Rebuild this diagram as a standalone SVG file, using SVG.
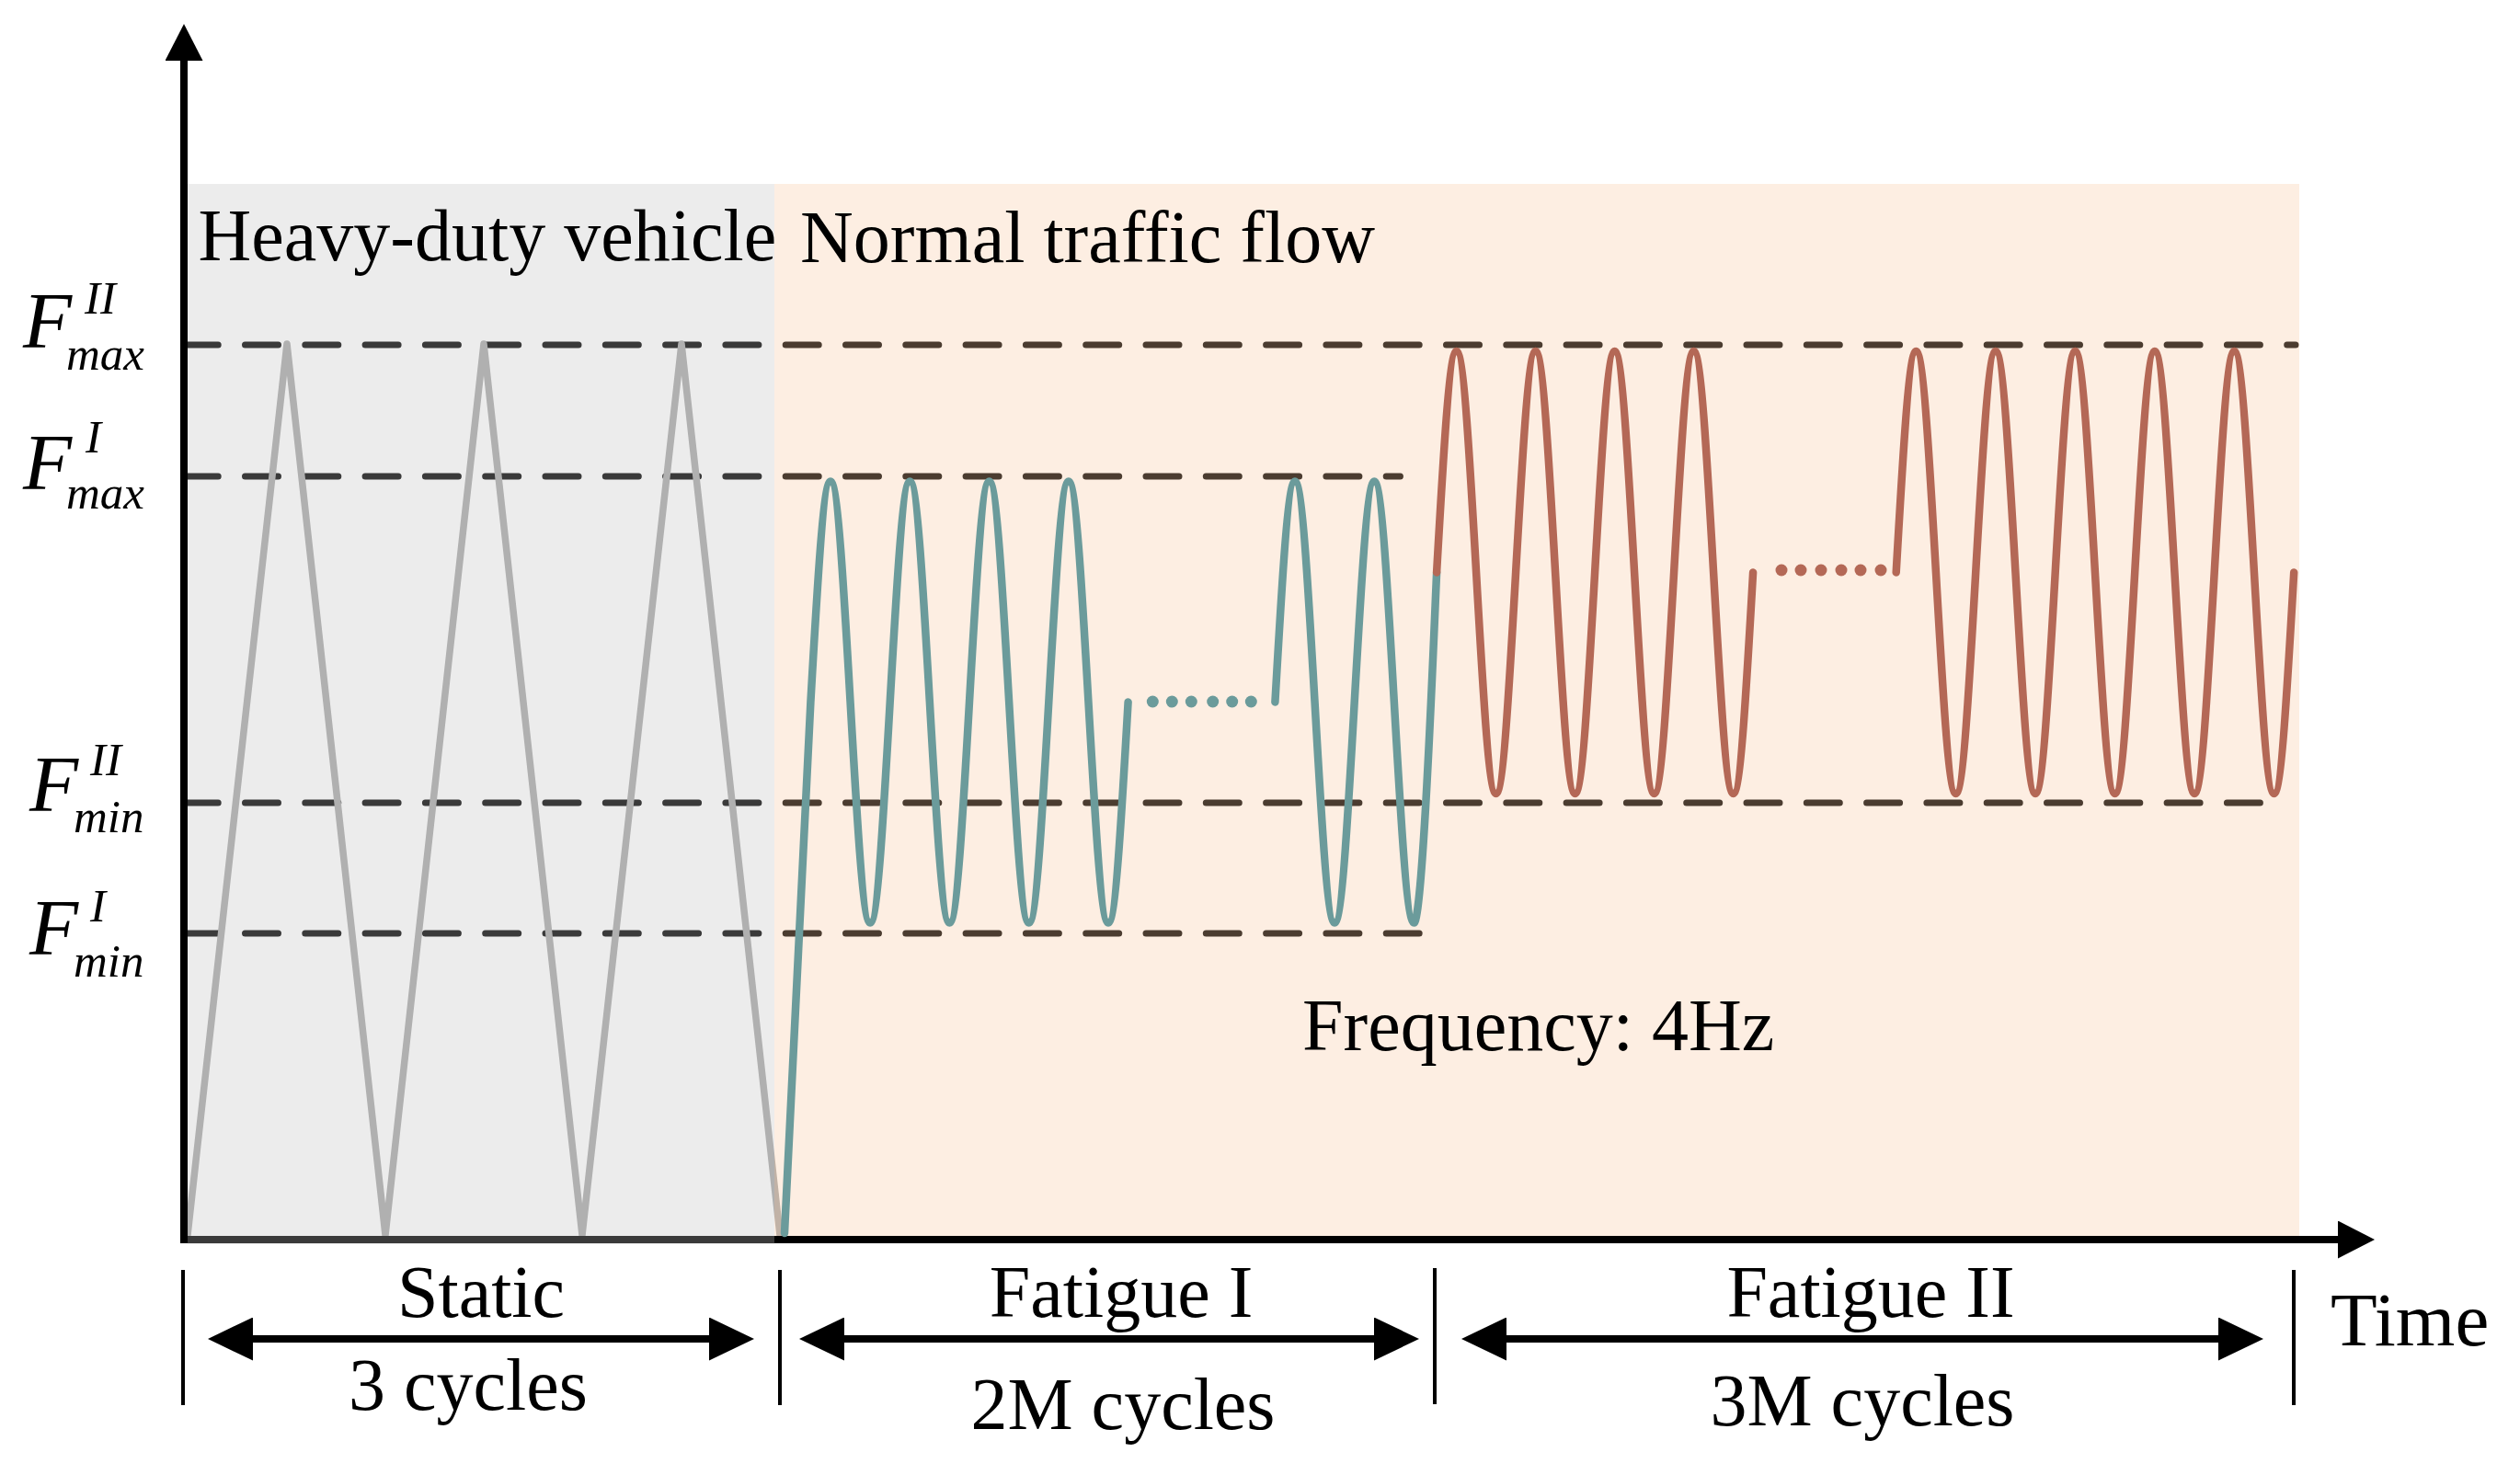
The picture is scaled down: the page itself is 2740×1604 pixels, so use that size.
<svg xmlns="http://www.w3.org/2000/svg" width="2740" height="1604" viewBox="0 0 2740 1604">
<style>
.dash{stroke:#000;stroke-width:7;stroke-dasharray:36 29.3;stroke-linecap:round;fill:none}
.tri{stroke:#A9A9A9;stroke-width:7.5;fill:none;stroke-linejoin:round;stroke-linecap:round}
.teal{stroke:#6B9B9B;stroke-width:8.5;fill:none;stroke-linecap:round;stroke-linejoin:round}
.red{stroke:#B46856;stroke-width:8.5;fill:none;stroke-linecap:round;stroke-linejoin:round}
.tdot{fill:#6B9B9B}
.rdot{fill:#B46856}
.t{font-family:"Liberation Serif","Times New Roman",serif;font-size:80px;fill:#000}
.Fi{font-family:"Liberation Serif","Times New Roman",serif;font-style:italic;font-size:87px;fill:#000}
.si{font-family:"Liberation Serif","Times New Roman",serif;font-style:italic;font-size:51px;fill:#000}
.tick{stroke:#000;stroke-width:4}
.dim{stroke:#000;stroke-width:8;fill:none}
</style>
<defs>
<marker id="axh" markerUnits="userSpaceOnUse" markerWidth="41" markerHeight="41" refX="30" refY="20.5" orient="auto-start-reverse"><path d="M0,0 L40,20.5 L0,41 z" fill="#000"/></marker>
<marker id="dh" markerUnits="userSpaceOnUse" markerWidth="50" markerHeight="47" refX="39" refY="23.5" orient="auto-start-reverse"><path d="M0,0 L49,23.5 L0,47 z" fill="#000"/></marker>
</defs>
<rect x="0" y="0" width="2740" height="1604" fill="#fff"/>

<g id="levels">
<line class="dash" x1="201.2" y1="375" x2="2496" y2="375"/>
<line class="dash" x1="201.2" y1="518" x2="1522.5" y2="518"/>
<line class="dash" x1="201.2" y1="873" x2="2470" y2="873"/>
<line class="dash" x1="201.2" y1="1015" x2="1543.2" y2="1015"/>
</g>

<g id="static-load">
<polyline class="tri" points="204,1343 312,374 419,1343 526,374 633,1343 741,374 848,1343"/>
</g>

<g id="axes">
<path d="M200,36 V1348 H2572" stroke="#000" stroke-width="8" fill="none" stroke-linejoin="miter" marker-start="url(#axh)" marker-end="url(#axh)"/>
</g>

<g id="regions">
<rect id="heavy-region" x="204" y="200" width="638" height="1153" fill="#C0C0C0" fill-opacity="0.3"/>
<rect id="normal-region" x="842" y="200" width="1658" height="1144" fill="#F8C69E" fill-opacity="0.3"/>
</g>

<g id="fatigue1">
<path class="teal" d="M853,1341 L881.4,763.5 c7.21,-126.02 13.81,-240 21.575,-240 c7.77,0 14.36,113.98 21.575,240 c7.21,126.02 13.81,240 21.575,240 c7.77,0 14.36,-113.98 21.575,-240 c7.21,-126.02 13.81,-240 21.575,-240 c7.77,0 14.36,113.98 21.575,240 c7.21,126.02 13.81,240 21.575,240 c7.77,0 14.36,-113.98 21.575,-240 c7.21,-126.02 13.81,-240 21.575,-240 c7.77,0 14.36,113.98 21.575,240 c7.21,126.02 13.81,240 21.575,240 c7.77,0 14.36,-113.98 21.575,-240 c7.21,-126.02 13.81,-240 21.575,-240 c7.77,0 14.36,113.98 21.575,240 c7.21,126.02 13.81,240 21.575,240 c7.77,0 14.36,-113.98 21.575,-240"/>
<circle class="tdot" cx="1253.3" cy="763" r="6.5"/>
<circle class="tdot" cx="1274.3" cy="763" r="6.5"/>
<circle class="tdot" cx="1295.3" cy="763" r="6.5"/>
<circle class="tdot" cx="1318.7" cy="763" r="6.5"/>
<circle class="tdot" cx="1339.7" cy="763" r="6.5"/>
<circle class="tdot" cx="1360.3" cy="763" r="6.5"/>
<path class="teal" d="M1386.4,763.5 c7.21,-126.02 13.81,-240 21.575,-240 c7.77,0 14.36,113.98 21.575,240 c7.21,126.02 13.81,240 21.575,240 c7.77,0 14.36,-113.98 21.575,-240 c7.21,-126.02 13.81,-240 21.575,-240 c7.77,0 14.36,113.98 21.575,240 c7.21,126.02 13.81,240 21.575,240 c10,0 22.7,-341 24.7,-381"/>
</g>

<g id="fatigue2">
<path class="red" d="M1562.1,622.5 c7.19,-126.29 13.76,-240.5 21.5,-240.5 c7.74,0 14.31,114.21 21.5,240.5 c7.19,126.29 13.76,240.5 21.5,240.5 c7.74,0 14.31,-114.21 21.5,-240.5 c7.19,-126.29 13.76,-240.5 21.5,-240.5 c7.74,0 14.31,114.21 21.5,240.5 c7.19,126.29 13.76,240.5 21.5,240.5 c7.74,0 14.31,-114.21 21.5,-240.5 c7.19,-126.29 13.76,-240.5 21.5,-240.5 c7.74,0 14.31,114.21 21.5,240.5 c7.19,126.29 13.76,240.5 21.5,240.5 c7.74,0 14.31,-114.21 21.5,-240.5 c7.19,-126.29 13.76,-240.5 21.5,-240.5 c7.74,0 14.31,114.21 21.5,240.5 c7.19,126.29 13.76,240.5 21.5,240.5 c7.74,0 14.31,-114.21 21.5,-240.5"/>
<circle class="rdot" cx="1937" cy="620" r="6.5"/>
<circle class="rdot" cx="1958" cy="620" r="6.5"/>
<circle class="rdot" cx="1980" cy="620" r="6.5"/>
<circle class="rdot" cx="2002" cy="620" r="6.5"/>
<circle class="rdot" cx="2023" cy="620" r="6.5"/>
<circle class="rdot" cx="2045" cy="620" r="6.5"/>
<path class="red" d="M2061.7,622.5 c7.23,-126.29 13.84,-240.5 21.625,-240.5 c7.78,0 14.4,114.21 21.625,240.5 c7.23,126.29 13.84,240.5 21.625,240.5 c7.78,0 14.4,-114.21 21.625,-240.5 c7.23,-126.29 13.84,-240.5 21.625,-240.5 c7.78,0 14.4,114.21 21.625,240.5 c7.23,126.29 13.84,240.5 21.625,240.5 c7.78,0 14.4,-114.21 21.625,-240.5 c7.23,-126.29 13.84,-240.5 21.625,-240.5 c7.78,0 14.4,114.21 21.625,240.5 c7.23,126.29 13.84,240.5 21.625,240.5 c7.78,0 14.4,-114.21 21.625,-240.5 c7.23,-126.29 13.84,-240.5 21.625,-240.5 c7.78,0 14.4,114.21 21.625,240.5 c7.23,126.29 13.84,240.5 21.625,240.5 c7.78,0 14.4,-114.21 21.625,-240.5 c7.23,-126.29 13.84,-240.5 21.625,-240.5 c7.78,0 14.4,114.21 21.625,240.5 c7.23,126.29 13.84,240.5 21.625,240.5 c7.78,0 14.4,-114.21 21.625,-240.5"/>
</g>

<g id="region-labels">
<text class="t" x="215.5" y="283">Heavy-duty vehicle</text>
<text class="t" x="870" y="285">Normal traffic flow</text>
<text class="t" x="1416" y="1142">Frequency: 4Hz</text>
</g>

<g id="label-fmax-II">
<text class="Fi" x="25" y="378">F</text>
<text class="si" x="92" y="341">II</text>
<text class="si" x="72" y="402">max</text>
</g>
<g id="label-fmax-I">
<text class="Fi" x="25" y="532">F</text>
<text class="si" x="93" y="492">I</text>
<text class="si" x="72" y="553">max</text>
</g>
<g id="label-fmin-II">
<text class="Fi" x="32" y="882">F</text>
<text class="si" x="98" y="843">II</text>
<text class="si" x="80" y="905">min</text>
</g>
<g id="label-fmin-I">
<text class="Fi" x="32" y="1038">F</text>
<text class="si" x="98" y="1002">I</text>
<text class="si" x="80" y="1062">min</text>
</g>

<g id="connectors">
<line class="tick" x1="199" y1="1381" x2="199" y2="1528"/>
<line class="tick" x1="848" y1="1381" x2="848" y2="1528"/>
<line class="tick" x1="1560" y1="1379" x2="1560" y2="1527"/>
<line class="tick" x1="2494" y1="1381" x2="2494" y2="1528"/>
<line class="dim" x1="236" y1="1456" x2="810" y2="1456" marker-start="url(#dh)" marker-end="url(#dh)"/>
<line class="dim" x1="879" y1="1456" x2="1533" y2="1456" marker-start="url(#dh)" marker-end="url(#dh)"/>
<line class="dim" x1="1599" y1="1456" x2="2451" y2="1456" marker-start="url(#dh)" marker-end="url(#dh)"/>
</g>

<g id="phase-labels">
<text class="t" x="523" y="1432" text-anchor="middle">Static</text>
<text class="t" x="509" y="1533" text-anchor="middle">3 cycles</text>
<text class="t" x="1219" y="1432" text-anchor="middle">Fatigue I</text>
<text class="t" x="1221" y="1554" text-anchor="middle">2M cycles</text>
<text class="t" x="2034" y="1432" text-anchor="middle">Fatigue II</text>
<text class="t" x="2025" y="1550" text-anchor="middle">3M cycles</text>
<text class="t" x="2534" y="1463" style="font-size:83px">Time</text>
</g>
</svg>
